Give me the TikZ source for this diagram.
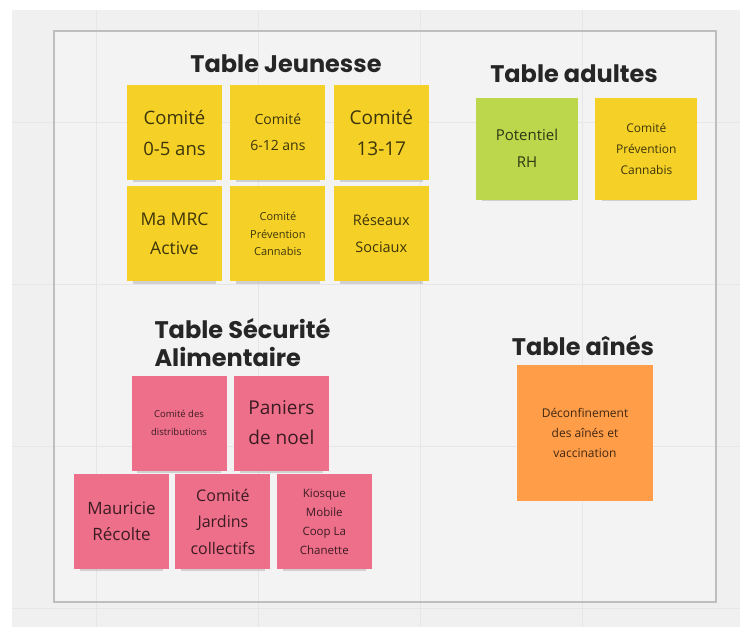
\documentclass[tikz,border=0pt]{standalone}
\usepackage{fontspec}
\setmainfont{Open Sans}
\newfontfamily\titlefont{Poppins}
\usetikzlibrary{positioning,shadows}

\definecolor{board}{HTML}{F0F0F0}
\definecolor{boardin}{HTML}{F3F3F3}
\definecolor{gridline}{HTML}{E6E6E6}
\definecolor{frameline}{HTML}{BEBEBE}
\definecolor{yellownote}{HTML}{F5D128}
\definecolor{greennote}{HTML}{BCD74B}
\definecolor{pinknote}{HTML}{EE6F8A}
\definecolor{orangenote}{HTML}{FF9D48}

\begin{document}
\begin{tikzpicture}[x=1pt,y=-1pt,node distance=8pt,
  note/.style={minimum width=95pt,minimum height=95pt,inner sep=2pt,align=center,
    text opacity=0.75,
    drop shadow={shadow xshift=0pt,shadow yshift=-9pt,opacity=0.3,shadow scale=0.88}},
  yellow note/.style={note,fill=yellownote},
  green note/.style={note,fill=greennote},
  pink note/.style={note,fill=pinknote},
  orange note/.style={note,fill=orangenote},
  table title/.style={font=\titlefont\bfseries\fontsize{24}{28}\selectfont,text=black!85}]

  % board
  \useasboundingbox (0,0) rectangle (743,627);
  \fill[white] (0,0) rectangle (743,627);
  \fill[board] (12,10) rectangle (740,627);
  \fill[boardin] (54,31) rectangle (716,602);
  \foreach \gx in {96,258,420,582}
    \draw[gridline] (\gx,10) -- (\gx,627);
  \foreach \gy in {122,284,446,608}
    \draw[gridline] (12,\gy) -- (740,\gy);
  \draw[frameline,line width=2pt] (54,31) rectangle (716,602);

  % Table Jeunesse
  \node[table title] (jeunesse) at (286,64) {Table Jeunesse};
  \node[yellow note,font=\fontsize{18.5}{31}\selectfont] (j1) at (174.5,132.5) {Comité\\0-5 ans};
  \node[yellow note,font=\fontsize{14}{26}\selectfont] (j2) [right=of j1] {Comité\\6-12 ans};
  \node[yellow note,font=\fontsize{19}{31}\selectfont] (j3) [right=of j2] {Comité\\13-17};
  \node[yellow note,font=\fontsize{17.5}{29}\selectfont] (j4) [below=6pt of j1] {Ma MRC\\Active};
  \node[yellow note,font=\fontsize{11}{17.5}\selectfont] (j5) [right=of j4] {Comité\\Prévention\\Cannabis};
  \node[yellow note,font=\fontsize{14.5}{27}\selectfont] (j6) [right=of j5] {Réseaux\\Sociaux};

  % Table adultes
  \node[table title] (adultes) at (574,74) {Table adultes};
  \node[green note,minimum size=102pt,font=\fontsize{15}{27}\selectfont] (a1) at (527,148.5) {Potentiel\\RH};
  \node[yellow note,minimum size=102pt,font=\fontsize{12}{21}\selectfont] (a2) [right=17pt of a1] {Comité\\Prévention\\Cannabis};

  % Table Sécurité Alimentaire
  \node[table title,align=left,anchor=north west] (securite) at (151,315) {Table Sécurité\\Alimentaire};
  \node[pink note,font=\fontsize{9.5}{18}\selectfont] (s1) at (179,423) {Comité des\\distributions};
  \node[pink note,font=\fontsize{19}{30}\selectfont] (s2) [right=7pt of s1] {Paniers\\de noel};
  \node[pink note,font=\fontsize{17}{26}\selectfont] (s3) at (121.5,521.5) {Mauricie\\Récolte};
  \node[pink note,font=\fontsize{16}{26.5}\selectfont] (s4) [right=6pt of s3] {Comité\\Jardins\\collectifs};
  \node[pink note,font=\fontsize{11.5}{19}\selectfont] (s5) [right=6pt of s4] {Kiosque\\Mobile\\Coop La\\Chanette};

  % Table aînés
  \node[table title] (aines) at (583,346) {Table aînés};
  \node[orange note,minimum size=136pt,font=\fontsize{12}{20}\selectfont] (o1) at (585,432.5) {Déconfinement\\des aînés et\\vaccination};

\end{tikzpicture}
\end{document}
